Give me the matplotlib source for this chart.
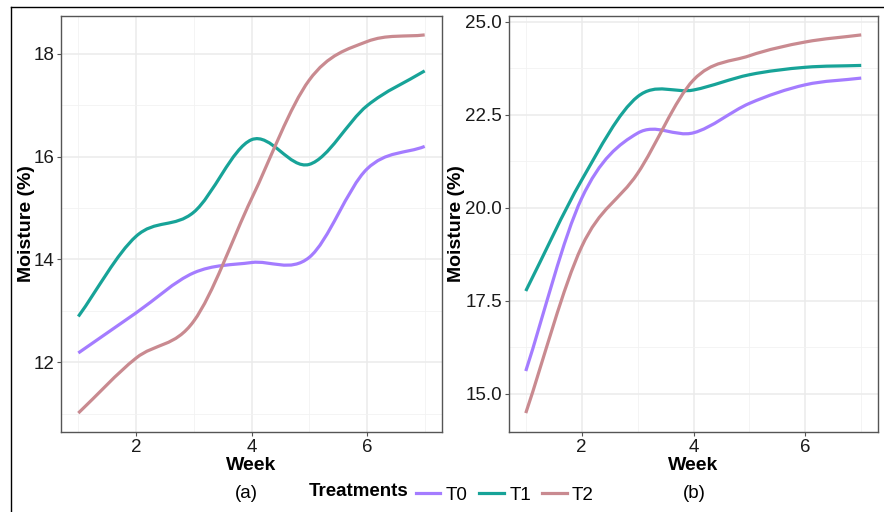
import matplotlib.pyplot as plt
from matplotlib.path import Path
from matplotlib.patches import PathPatch
from matplotlib.lines import Line2D
import numpy as np

plt.rcParams['font.family'] = ['Liberation Sans', 'DejaVu Sans']

weeks = [1, 2, 3, 4, 5, 6, 7]
treatments = ['T0', 'T1', 'T2']
colors = ['#a47cff', '#17a398', '#c98a90']

# panel (a)
a_T0 = [12.18, 12.96, 13.74, 13.94, 14.04, 15.76, 16.20]
a_T1 = [12.89, 14.45, 14.92, 16.33, 15.85, 16.99, 17.67]
a_T2 = [11.01, 12.08, 12.80, 15.18, 17.49, 18.24, 18.37]

# panel (b)
b_T0 = [15.61, 20.25, 22.00, 22.01, 22.80, 23.30, 23.48]
b_T1 = [17.76, 20.74, 22.98, 23.16, 23.57, 23.77, 23.82]
b_T2 = [14.48, 18.95, 20.92, 23.43, 24.08, 24.45, 24.64]


def smooth_path(x, y):
    # Catmull-Rom through the points, drawn as cubic bezier segments
    x = np.asarray(x, float)
    y = np.asarray(y, float)
    n = len(x)
    tx = np.gradient(x)
    ty = np.gradient(y)
    verts = [(x[0], y[0])]
    codes = [Path.MOVETO]
    for i in range(n - 1):
        verts.append((x[i] + tx[i] / 3, y[i] + ty[i] / 3))
        verts.append((x[i + 1] - tx[i + 1] / 3, y[i + 1] - ty[i + 1] / 3))
        verts.append((x[i + 1], y[i + 1]))
        codes += [Path.CURVE4] * 3
    return Path(verts, codes)


def draw_panel(ax, series, yticks, yminor, fmt, ylab_x):
    for vals, c in zip(series, colors):
        ax.add_patch(PathPatch(smooth_path(weeks, vals), fill=False,
                               edgecolor=c, lw=2.3, capstyle='butt'))
    lo = min(min(s) for s in series)
    hi = max(max(s) for s in series)
    pad = (hi - lo) * 0.05
    ax.set_ylim(lo - pad, hi + pad)
    ax.set_xlim(0.7, 7.3)
    ax.set_xticks([2, 4, 6])
    ax.set_xticks([1, 3, 5, 7], minor=True)
    ax.set_yticks(yticks)
    ax.set_yticks(yminor, minor=True)
    ax.set_yticklabels([fmt.format(v) for v in yticks])
    ax.grid(which='major', color='#ebebeb', lw=1.1)
    ax.grid(which='minor', color='#f2f2f2', lw=0.6)
    ax.set_axisbelow(True)
    ax.tick_params(which='major', length=3, width=0.8, color='#555555',
                   labelsize=13.5, labelcolor='#1a1a1a', pad=2)
    ax.tick_params(which='minor', length=0)
    for sp in ax.spines.values():
        sp.set_color('#555555')
        sp.set_linewidth(1.0)
    ax.set_xlabel('Week', fontsize=14, fontweight='bold', labelpad=1)
    ax.set_ylabel('Moisture (%)', fontsize=14, fontweight='bold')
    ax.yaxis.set_label_coords(ylab_x, 0.5)


fig = plt.figure(figsize=(8.84, 5.12), dpi=100)
W, H = 884, 512
ax1 = fig.add_axes([61 / W, 1 - 432 / H, 381 / W, 416 / H])
ax2 = fig.add_axes([509 / W, 1 - 432 / H, 369 / W, 416 / H])

draw_panel(ax1, [a_T0, a_T1, a_T2], [12, 14, 16, 18], [11, 13, 15, 17], '{:.0f}',
           (35 - 61) / 381)
draw_panel(ax2, [b_T0, b_T1, b_T2], [15.0, 17.5, 20.0, 22.5, 25.0],
           [16.25, 18.75, 21.25, 23.75], '{:.1f}', (465 - 509) / 369)

# captions and legend
fig.text(246 / W, 1 - 494 / H, '(a)', ha='center', va='center', fontsize=13.5)
fig.text(694 / W, 1 - 494 / H, '(b)', ha='center', va='center', fontsize=13.5)
fig.text(359 / W, 1 - 492 / H, 'Treatments', ha='center', va='center',
         fontsize=13.5, fontweight='bold')
handles = [Line2D([], [], color=c, lw=2.3) for c in colors]
fig.legend(handles, treatments, loc='center left',
           bbox_to_anchor=(416 / W, 1 - 495 / H), ncol=3, frameon=False,
           fontsize=13.5, handlelength=1.3, handletextpad=0.3,
           columnspacing=0.6, borderaxespad=0, borderpad=0)

# outer frame lines
fig.add_artist(Line2D([11 / W, 11 / W], [0, 1 - 7 / H], color='black', lw=1.0,
                      transform=fig.transFigure))
fig.add_artist(Line2D([11 / W, 1], [1 - 7 / H, 1 - 7 / H], color='black', lw=1.0,
                      transform=fig.transFigure))

fig.savefig('out.png', dpi=100)
